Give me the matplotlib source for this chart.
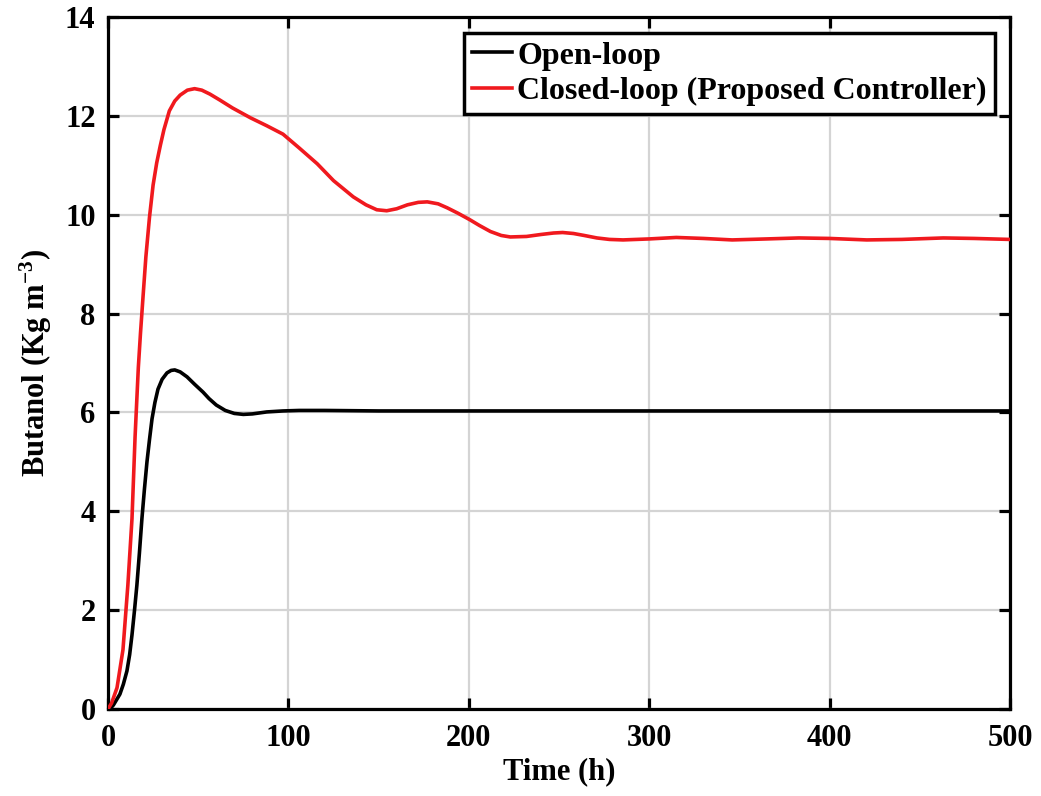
import matplotlib
matplotlib.use("Agg")
import matplotlib.pyplot as plt

# Time (h) and butanol (Kg m^-3)
t_open = [0, 1, 3, 6.6, 8.5, 10.5, 12, 13.3, 14.7, 16, 17.4, 18.8, 20.2, 21.6, 23,
          24.4, 26, 27.7, 30, 32.7, 35, 37, 40, 43.8, 48, 52.7, 56, 60, 65, 70,
          75, 80, 88, 97, 106, 120, 150, 200, 300, 400, 500]
y_open = [0, 0.0, 0.08, 0.3, 0.5, 0.77, 1.1, 1.5, 2.0, 2.5, 3.15, 3.85, 4.45, 5.0, 5.45,
          5.87, 6.2, 6.47, 6.67, 6.8, 6.85, 6.86, 6.82, 6.72, 6.57, 6.41, 6.28, 6.15, 6.04, 5.98,
          5.96, 5.97, 6.01, 6.03, 6.04, 6.04, 6.03, 6.03, 6.03, 6.03, 6.03]

t_closed = [0, 2, 5, 8.3, 11, 13.3, 15, 16.8, 18, 19.4, 21, 23, 25, 27, 29, 31,
            34, 37, 40, 44, 48, 52, 56.5, 62, 69, 79, 88, 97, 106, 116, 125,
            136, 143, 149, 154.5, 160, 166, 172, 177, 183, 188, 194, 200.5, 206, 212, 218,
            223, 232, 240, 247, 252, 258, 264, 271, 278, 285.5, 300, 315, 330, 346,
            365, 383, 400, 420.6, 440, 463, 480, 500]
y_closed = [0, 0.12, 0.43, 1.2, 2.5, 3.85, 5.5, 6.9, 7.6, 8.33, 9.15, 9.95, 10.6, 11.05, 11.4, 11.72,
            12.1, 12.3, 12.42, 12.52, 12.55, 12.52, 12.44, 12.32, 12.16, 11.96, 11.8, 11.63, 11.35, 11.03, 10.69,
            10.36, 10.2, 10.1, 10.08, 10.12, 10.2, 10.25, 10.26, 10.22, 10.14, 10.03, 9.9, 9.78, 9.66, 9.58,
            9.55, 9.56, 9.6, 9.63, 9.64, 9.62, 9.58, 9.53, 9.5, 9.49, 9.51, 9.54, 9.52, 9.49,
            9.51, 9.53, 9.52, 9.49, 9.5, 9.53, 9.52, 9.5]

labels = ["Open-loop", "Closed-loop (Proposed Controller)"]
x_ticks = [0, 100, 200, 300, 400, 500]
y_ticks = [0, 2, 4, 6, 8, 10, 12, 14]

plt.rcParams['font.family'] = ['Liberation Serif', 'DejaVu Serif']
plt.rcParams['font.weight'] = 'bold'
plt.rcParams['mathtext.fontset'] = 'custom'
plt.rcParams['mathtext.rm'] = 'Liberation Serif:bold'
plt.rcParams['mathtext.it'] = 'Liberation Serif:bold'
plt.rcParams['mathtext.bf'] = 'Liberation Serif:bold'

fig = plt.figure(figsize=(10.41, 7.96), dpi=100)
ax = fig.add_axes([108 / 1041, 87 / 796, 902 / 1041, 692 / 796])

ax.plot(t_open, y_open, color='black', lw=2.6, label=labels[0], zorder=3)
ax.plot(t_closed, y_closed, color='#f0191e', lw=2.6, label=labels[1], zorder=3)

ax.set_xlim(0, 500)
ax.set_ylim(0, 14)
ax.set_xticks(x_ticks)
ax.set_yticks(y_ticks)
ax.grid(True, color='#d4d4d4', lw=1.6)
ax.set_axisbelow(True)

for s in ax.spines.values():
    s.set_linewidth(2.3)
    s.set_color('black')

ax.tick_params(direction='in', length=8, width=2.3, top=True, right=True,
               labelsize=22, colors='black')
ax.tick_params(axis='x', pad=11)
ax.tick_params(axis='y', pad=9)
for lab in ax.get_xticklabels() + ax.get_yticklabels():
    lab.set_fontweight('bold')

ax.set_xlabel("Time (h)", fontsize=22, fontweight='bold', labelpad=3)
ax.set_ylabel(r"Butanol (Kg m$^{-3}$)", fontsize=22, fontweight='bold', labelpad=8)

leg = ax.legend(loc='upper right', bbox_to_anchor=(0.9834, 0.9769), borderaxespad=0,
                frameon=True, fancybox=False, edgecolor='black',
                handlelength=1.25, handletextpad=0.15, labelspacing=0.18,
                borderpad=0.26, prop={'weight': 'bold', 'size': 23})
leg.get_frame().set_linewidth(2.5)
leg.get_frame().set_alpha(1)

fig.savefig("out.png", dpi=100)
